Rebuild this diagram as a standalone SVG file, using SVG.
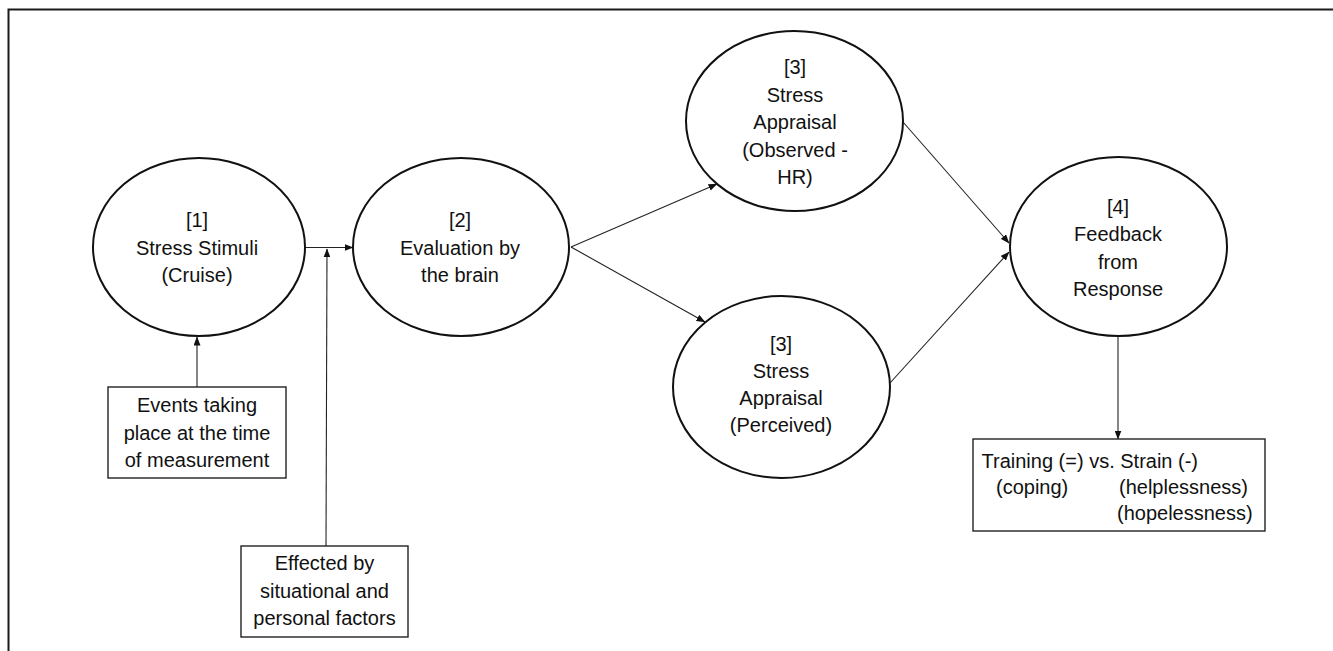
<svg xmlns="http://www.w3.org/2000/svg" width="1333" height="651" viewBox="0 0 1333 651">
<defs>
<marker id="ah" markerUnits="userSpaceOnUse" markerWidth="9" markerHeight="7" refX="8.5" refY="3.5" orient="auto">
<path d="M0,0 L9,3.5 L0,7 z" fill="#111"/>
</marker>
<style>
.el{fill:#fff;stroke:#111;stroke-width:2}
.bx{fill:#fff;stroke:#222;stroke-width:1.4}
.t{font-family:"Liberation Sans",Arial,sans-serif;font-size:20px;fill:#111;text-anchor:middle}
.tl{font-family:"Liberation Sans",Arial,sans-serif;font-size:20px;fill:#111}
.c{fill:none;stroke:#222;stroke-width:1.1}
.ca{fill:none;stroke:#222;stroke-width:1.1;marker-end:url(#ah)}
</style>
</defs>
<rect width="1333" height="651" fill="#fff"/>
<g id="frame"><path d="M8.5,651 L8.5,9.5 L1333,9.5" fill="none" stroke="#1a1a1a" stroke-width="2"/></g>
<g id="connectors">
<line class="ca" x1="305" y1="247.5" x2="353" y2="247.5"/>
<line class="ca" x1="326" y1="546" x2="327" y2="249"/>
<line class="ca" x1="197" y1="387" x2="197" y2="337"/>
<line class="ca" x1="571" y1="247" x2="717" y2="184"/>
<line class="ca" x1="571" y1="247" x2="705" y2="322"/>
<line class="ca" x1="903" y1="122" x2="1009" y2="243"/>
<line class="ca" x1="890" y1="383" x2="1009" y2="252"/>
<line class="ca" x1="1118" y1="336" x2="1118" y2="439"/>
</g>
<g id="n1">
<ellipse class="el" cx="199" cy="247" rx="106" ry="89"/>
<text class="t" x="197" y="227">[1]</text>
<text class="t" x="197" y="254.5">Stress Stimuli</text>
<text class="t" x="197" y="282">(Cruise)</text>
</g>
<g id="n2">
<ellipse class="el" cx="461" cy="247" rx="108" ry="89"/>
<text class="t" x="460" y="227">[2]</text>
<text class="t" x="460" y="254.5">Evaluation by</text>
<text class="t" x="460" y="282">the brain</text>
</g>
<g id="n3a">
<ellipse class="el" cx="794.5" cy="121" rx="108.5" ry="90"/>
<text class="t" x="795" y="74">[3]</text>
<text class="t" x="795" y="101.5">Stress</text>
<text class="t" x="795" y="129">Appraisal</text>
<text class="t" x="795" y="156.5">(Observed -</text>
<text class="t" x="795" y="184">HR)</text>
</g>
<g id="n3b">
<ellipse class="el" cx="781.5" cy="387" rx="108.5" ry="91"/>
<text class="t" x="781" y="351">[3]</text>
<text class="t" x="781" y="378">Stress</text>
<text class="t" x="781" y="405">Appraisal</text>
<text class="t" x="781" y="432">(Perceived)</text>
</g>
<g id="n4">
<ellipse class="el" cx="1118.5" cy="246.5" rx="108.5" ry="89.5"/>
<text class="t" x="1118" y="213.5">[4]</text>
<text class="t" x="1118" y="241">Feedback</text>
<text class="t" x="1118" y="268.5">from</text>
<text class="t" x="1118" y="296">Response</text>
</g>
<g id="events">
<rect class="bx" x="108" y="387" width="178" height="91"/>
<text class="t" x="197" y="412">Events taking</text>
<text class="t" x="197" y="439.5">place at the time</text>
<text class="t" x="197" y="467">of measurement</text>
</g>
<g id="factors">
<rect class="bx" x="241" y="546" width="167" height="91"/>
<text class="t" x="324.5" y="570">Effected by</text>
<text class="t" x="324.5" y="597.5">situational and</text>
<text class="t" x="324.5" y="625">personal factors</text>
</g>
<g id="outcome">
<rect class="bx" x="973" y="439" width="292" height="92"/>
<text class="tl" x="981.5" y="468">Training (=) vs. Strain (-)</text>
<text class="tl" x="996" y="494">(coping)</text>
<text class="tl" x="1119" y="494">(helplessness)</text>
<text class="tl" x="1117" y="520">(hopelessness)</text>
</g>
</svg>
